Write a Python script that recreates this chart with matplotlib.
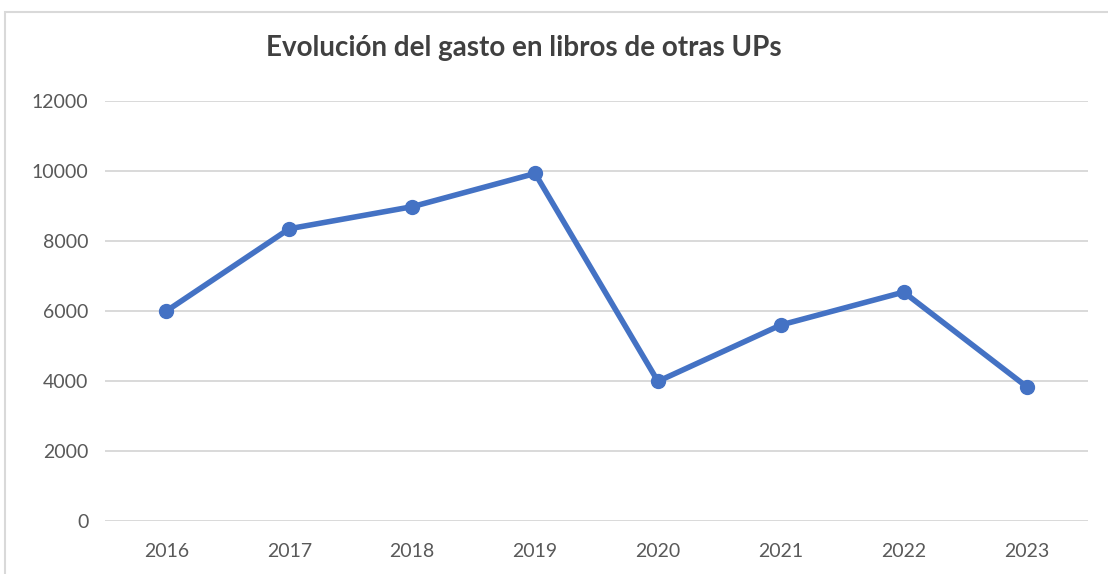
import matplotlib
matplotlib.use("Agg")
import matplotlib.pyplot as plt
from matplotlib.patches import Rectangle

# data
years = ['2016', '2017', '2018', '2019', '2020', '2021', '2022', '2023']
gasto = [6000, 8350, 8980, 9930, 3990, 5600, 6540, 3840]
yticks = [0, 2000, 4000, 6000, 8000, 10000, 12000]

plt.rcParams['font.family'] = ['Lato', 'DejaVu Sans']

W, H = 1108, 574
fig = plt.figure(figsize=(W/100, H/100), dpi=100)
fig.patch.set_facecolor('white')

# outer chart frame (cut off at right and bottom)
fig.patches.append(Rectangle((5/W, -0.1), 1.1, 1.1 - 12/H, transform=fig.transFigure,
                             fill=False, edgecolor='#d9d9d9', linewidth=1.5))

ax = fig.add_axes([105/W, 53/H, (1088-105)/W, (521-101)/H])
x = list(range(len(years)))
ax.plot(x, gasto, color='#4472c4', linewidth=4, marker='o', markersize=10,
        solid_capstyle='round', solid_joinstyle='round', zorder=3)

ax.set_xlim(-0.5, len(years) - 0.5)
ax.set_ylim(0, 12000)
ax.set_yticks(yticks)
ax.set_yticklabels([str(v) for v in yticks])
ax.set_xticks(x)
ax.set_xticklabels(years)
ax.grid(axis='y', color='#d9d9d9', linewidth=1.4)
ax.set_axisbelow(True)
for s in ax.spines.values():
    s.set_visible(False)
ax.tick_params(axis='both', length=0, labelsize=14, labelcolor='#595959')
ax.tick_params(axis='y', pad=12)
ax.tick_params(axis='x', pad=16)

fig.text(524/W, 1 - 48/H, 'Evolución del gasto en libros de otras UPs', ha='center', va='center',
         fontsize=20, fontweight='bold', color='#404040')

fig.savefig('out.png', dpi=100)
